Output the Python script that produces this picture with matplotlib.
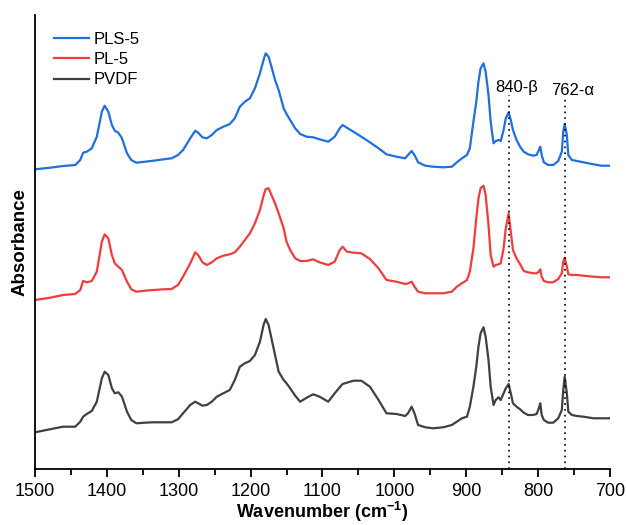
import matplotlib
matplotlib.use("Agg")
import matplotlib.pyplot as plt
from matplotlib.ticker import MultipleLocator
import numpy as np

# Wavenumber grid (cm-1)
wavenumber = [1500, 1479, 1461, 1444, 1437, 1433, 1428, 1421, 1414, 1407,
              1403, 1398, 1393, 1389, 1384, 1379, 1372, 1366, 1359, 1347,
              1335, 1321, 1310, 1301, 1294, 1284, 1277, 1273, 1267, 1261,
              1254, 1247, 1238, 1229, 1222, 1215, 1208, 1201, 1194, 1187,
              1182, 1179, 1175, 1171, 1166, 1161, 1154, 1150, 1145, 1138,
              1131, 1122, 1113, 1104, 1092,
              1083, 1076, 1072, 1066, 1057, 1046, 1034, 1022, 1011, 997,
              985, 981, 976, 972, 967, 957, 946, 932, 920, 913,
              906, 899, 895, 890, 886, 883, 880, 876, 873, 869,
              866, 862, 859, 855, 852, 848, 845, 841, 838, 835,
              830, 825, 820, 814, 807, 802, 799, 797, 795, 792,
              786, 779, 772, 767, 765, 763, 760, 758, 753, 746,
              737, 723, 712, 701]

# Absorbance (arb. units)
pls5 = [0.397, 0.413, 0.430, 0.440, 0.490, 0.563, 0.573, 0.607, 0.723, 0.973,
        1.033, 0.973, 0.840, 0.783, 0.763, 0.707, 0.557, 0.490, 0.463, 0.473,
        0.483, 0.497, 0.507, 0.540, 0.590, 0.707, 0.783, 0.763, 0.717, 0.707,
        0.740, 0.790, 0.823, 0.850, 0.907, 1.023, 1.073, 1.107, 1.207, 1.357,
        1.490, 1.557, 1.523, 1.423, 1.290, 1.190, 1.007, 0.950, 0.890, 0.807,
        0.750, 0.723, 0.717, 0.697, 0.673,
        0.723, 0.807, 0.840, 0.813, 0.773, 0.723, 0.667, 0.607, 0.547, 0.523,
        0.507, 0.540, 0.580, 0.540, 0.467, 0.433, 0.423, 0.417, 0.423, 0.467,
        0.507, 0.540, 0.607, 0.873, 1.073, 1.273, 1.407, 1.457, 1.373, 1.140,
        0.873, 0.657, 0.680, 0.690, 0.680, 0.790, 0.907, 0.967, 0.890, 0.790,
        0.690, 0.623, 0.573, 0.547, 0.533, 0.540, 0.590, 0.623, 0.540, 0.467,
        0.440, 0.440, 0.480, 0.573, 0.773, 0.850, 0.740, 0.540, 0.490, 0.480,
        0.467, 0.447, 0.433, 0.433]

pl5 = [0.390, 0.413, 0.440, 0.450, 0.490, 0.580, 0.567, 0.580, 0.673, 0.973,
       1.047, 1.007, 0.840, 0.757, 0.723, 0.690, 0.573, 0.497, 0.473, 0.483,
       0.490, 0.497, 0.500, 0.540, 0.623, 0.757, 0.867, 0.840, 0.767, 0.740,
       0.767, 0.807, 0.833, 0.847, 0.867, 0.923, 0.990, 1.057, 1.157, 1.290,
       1.433, 1.500, 1.507, 1.440, 1.357, 1.257, 1.107, 0.973, 0.890, 0.807,
       0.780, 0.780, 0.797, 0.767, 0.740,
       0.773, 0.890, 0.923, 0.873, 0.863, 0.857, 0.800, 0.707, 0.590, 0.573,
       0.550, 0.557, 0.573, 0.523, 0.473, 0.457, 0.457, 0.457, 0.473, 0.523,
       0.557, 0.590, 0.673, 0.907, 1.207, 1.407, 1.507, 1.533, 1.440, 1.140,
       0.840, 0.723, 0.740, 0.747, 0.757, 0.907, 1.107, 1.257, 1.073, 0.890,
       0.807, 0.747, 0.680, 0.667, 0.657, 0.657, 0.673, 0.697, 0.623, 0.580,
       0.567, 0.567, 0.600, 0.657, 0.773, 0.813, 0.723, 0.647, 0.640, 0.640,
       0.633, 0.623, 0.617, 0.617]

pvdf = [0.367, 0.397, 0.423, 0.423, 0.473, 0.523, 0.550, 0.580, 0.673, 0.907,
        0.973, 0.940, 0.807, 0.757, 0.767, 0.723, 0.573, 0.490, 0.457, 0.463,
        0.467, 0.467, 0.467, 0.497, 0.557, 0.640, 0.673, 0.657, 0.633, 0.640,
        0.673, 0.723, 0.757, 0.790, 0.890, 1.023, 1.057, 1.080, 1.140, 1.273,
        1.440, 1.500, 1.440, 1.307, 1.140, 0.973, 0.890, 0.857, 0.807, 0.733,
        0.673, 0.713, 0.747, 0.723, 0.673,
        0.757, 0.817, 0.850, 0.863, 0.883, 0.883, 0.823, 0.690, 0.557, 0.550,
        0.530, 0.557, 0.623, 0.557, 0.440, 0.417, 0.407, 0.417, 0.440, 0.473,
        0.507, 0.523, 0.623, 0.823, 1.023, 1.223, 1.357, 1.417, 1.323, 1.090,
        0.823, 0.640, 0.690, 0.717, 0.690, 0.757, 0.807, 0.850, 0.757, 0.657,
        0.623, 0.597, 0.563, 0.540, 0.540, 0.550, 0.607, 0.657, 0.540, 0.490,
        0.463, 0.463, 0.507, 0.590, 0.790, 0.923, 0.757, 0.573, 0.540, 0.530,
        0.523, 0.507, 0.507, 0.507]

labels = ["PLS-5", "PL-5", "PVDF"]
offsets = [2.6, 1.3, 0.0]
colors = ["#1f6fe0", "#f03c3c", "#404040"]

# band markers
marks = [840, 762]
mark_text = ["840-\u03b2", "762-\u03b1"]
mark_top = [3.74, 3.71]

plt.rcParams['font.family'] = ['Liberation Sans', 'DejaVu Sans']
plt.rcParams['mathtext.fontset'] = 'custom'
plt.rcParams['mathtext.rm'] = 'Liberation Sans:bold'
plt.rcParams['mathtext.it'] = 'Liberation Sans:bold'
plt.rcParams['mathtext.bf'] = 'Liberation Sans:bold'

fig = plt.figure(figsize=(6.26, 5.25), dpi=100)
ax = fig.add_axes([0.0559, 0.1067, 0.9185, 0.8647])

for y, off, c, lab in zip([pls5, pl5, pvdf], offsets, colors, labels):
    ax.plot(wavenumber, np.asarray(y) + off, color=c, lw=1.6, label=lab)

for m, t, top in zip(marks, mark_text, mark_top):
    ax.plot([m, m], [0, top], ls=(0, (1, 2.5)), color="black", lw=1.2)
    ax.text(m - 10, top + 0.03, t, ha="center", va="baseline", fontsize=12)

ax.set_xlim(1500, 700)
ax.set_ylim(0, 4.54)
ax.xaxis.set_major_locator(MultipleLocator(100))
ax.xaxis.set_minor_locator(MultipleLocator(50))
ax.set_yticks([])
ax.tick_params(axis="x", which="major", length=6, width=1.3, labelsize=13, pad=4)
ax.tick_params(axis="x", which="minor", length=4, width=1.3)
for s in ["top", "right"]:
    ax.spines[s].set_visible(False)
for s in ["left", "bottom"]:
    ax.spines[s].set_linewidth(1.3)

ax.set_xlabel("Wavenumber (cm$^{-1}$)", fontsize=13, fontweight="bold", labelpad=0)
ax.set_ylabel("Absorbance", fontsize=13.5, fontweight="bold", labelpad=5)

ax.legend(loc="upper left", frameon=False, fontsize=12, handlelength=2.1,
          handletextpad=0.3, labelspacing=0.32, borderaxespad=0.2,
          bbox_to_anchor=(0.015, 0.985))

fig.savefig("out.png", dpi=100)
